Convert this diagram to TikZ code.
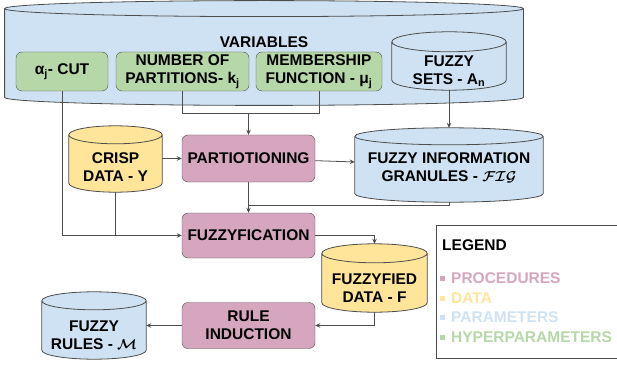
\documentclass[tikz,border=0pt]{standalone}
\usepackage{amsmath}
\usepackage{fontspec}
\setmainfont{Liberation Sans}
\usetikzlibrary{arrows.meta, calc, backgrounds}
\definecolor{procpink}{HTML}{D5A6BD}
\definecolor{datayel}{HTML}{FFE599}
\definecolor{parblue}{HTML}{CFE2F3}
\definecolor{hypgreen}{HTML}{B6D7A8}
\definecolor{lnegray}{HTML}{4D4D4D}
% strut that pushes cylinder text below the top ellipse
\newcommand{\dropline}[1]{\rule{0pt}{#1}}
% cylinder drawn behind a named node: node, ellipse half-height, fill
\newcommand{\drum}[3]{%
  \begin{pgfonlayer}{background}
  \path let \p1=(#1.north west), \p2=(#1.south east), \n1={(\x2-\x1)/2} in
    [draw=lnegray, fill=#3, line width=0.8pt]
    (\x1,\y1-#2) -- (\x1,\y2+#2)
    arc[start angle=180, end angle=360, x radius={\n1*1pt}, y radius=#2]
    -- (\x2,\y1-#2)
    arc[start angle=0, end angle=180, x radius={\n1*1pt}, y radius=#2] -- cycle
    (\x1,\y1-#2) arc[start angle=180, end angle=360, x radius={\n1*1pt}, y radius=#2];
  \end{pgfonlayer}}

\begin{document}
\begin{tikzpicture}[
  x=1pt, y=-1pt,
  >={Stealth[length=5pt, width=4.5pt]},
  line width=0.8pt,
  every node/.style={font=\fontsize{15.5}{18}\selectfont\bfseries, align=center, inner sep=0pt},
  proc/.style={rectangle, rounded corners=6pt, draw=lnegray, fill=procpink},
  hyper/.style={rectangle, rounded corners=6pt, draw=lnegray, fill=hypgreen},
  store/.style={rectangle},
  flow/.style={draw=lnegray, line width=0.8pt}
]
\useasboundingbox (0,0) rectangle (617,366);

% ── Variables container ──
\node[store, minimum width=518pt, minimum height=104pt] (var) at (264,53) {};
\drum{var}{8pt}{parblue}
\node (vartitle) at (264,42) {VARIABLES};

% ── Hyperparameters ──
\node[hyper, minimum width=92pt, minimum height=39pt] (cut) at (62,71.5) {α\textsubscript{j}- CUT};
\node[hyper, minimum width=133pt, minimum height=39pt] (parts) at (182.5,71.5) {NUMBER OF\\PARTITIONS- k\textsubscript{j}};
\node[hyper, minimum width=126pt, minimum height=39pt] (memb) at (319,71.5) {MEMBERSHIP\\FUNCTION - μ\textsubscript{j}};
\node[store, minimum width=114pt, minimum height=58pt] (fsets) at (449,61) {\dropline{31pt}FUZZY\\SETS - A\textsubscript{n}};
\drum{fsets}{10pt}{parblue}

% ── Data and procedures ──
\node[store, minimum width=93pt, minimum height=66pt] (crisp) at (115.5,159) {\dropline{27pt}CRISP\\DATA - Y};
\drum{crisp}{9pt}{datayel}
\node[proc, minimum width=133pt, minimum height=47pt] (part) at (248.5,158.5) {PARTIOTIONING};
\node[store, minimum width=188pt, minimum height=74pt] (fig) at (449,165) {\dropline{17pt}FUZZY INFORMATION\\GRANULES - $\boldsymbol{\mathcal{FIG}}$};
\drum{fig}{8.5pt}{parblue}
\node[proc, minimum width=133pt, minimum height=45pt] (fuzz) at (248.5,235.5) {FUZZYFICATION};
\node[store, minimum width=105pt, minimum height=68pt] (fdata) at (374.5,278) {\dropline{30pt}FUZZYFIED\\DATA - F};
\drum{fdata}{9.5pt}{datayel}
\node[proc, minimum width=133pt, minimum height=46pt] (rule) at (248.5,325.5) {RULE\\INDUCTION};
\node[store, minimum width=104pt, minimum height=67pt] (rules) at (94,325.5) {\dropline{30pt}FUZZY\\RULES - $\boldsymbol{\mathcal{M}}$};
\drum{rules}{9pt}{parblue}

% ── Connectors ──
\coordinate (j1) at (248.5,113);
\coordinate (j2) at (248.5,205);
\draw[flow] (parts.south) |- (j1);
\draw[flow] (memb.south) |- (j1);
\draw[flow, ->] (j1) -- (part.north);
\draw[flow, ->] (crisp.east |- part.west) -- (part.west);
\draw[flow, ->] (part) -- (fig);
\draw[flow, ->] (fsets.south) -- (fig.north);
\draw[flow] (fig.south) |- (j2);
\draw[flow, ->] (part.south) -- (fuzz.north);
\draw[flow, ->] (cut.south) |- (fuzz.west);
\draw[flow] (crisp.south) -- (crisp.south |- fuzz.west);
\draw[flow, ->] (fuzz.east) -| (fdata.north);
\draw[flow, ->] (fdata.south) |- (rule.east);
\draw[flow, ->] (rule.west) -- (rules.east |- rule.west);

% ── Legend ──
\draw[lnegray, line width=0.6pt] (436,225) rectangle (622,358.5);
\node[anchor=west] (legtitle) at (442,245) {LEGEND};
\foreach \c/\t/\y in {procpink/PROCEDURES/278, datayel/DATA/298, parblue/PARAMETERS/317.5, hypgreen/HYPERPARAMETERS/337} {
  \fill[\c] (440,\y-2.5) rectangle (445,\y+2.5);
  \node[anchor=west, text=\c] at (451,\y) {\t};
}
\end{tikzpicture}
\end{document}
